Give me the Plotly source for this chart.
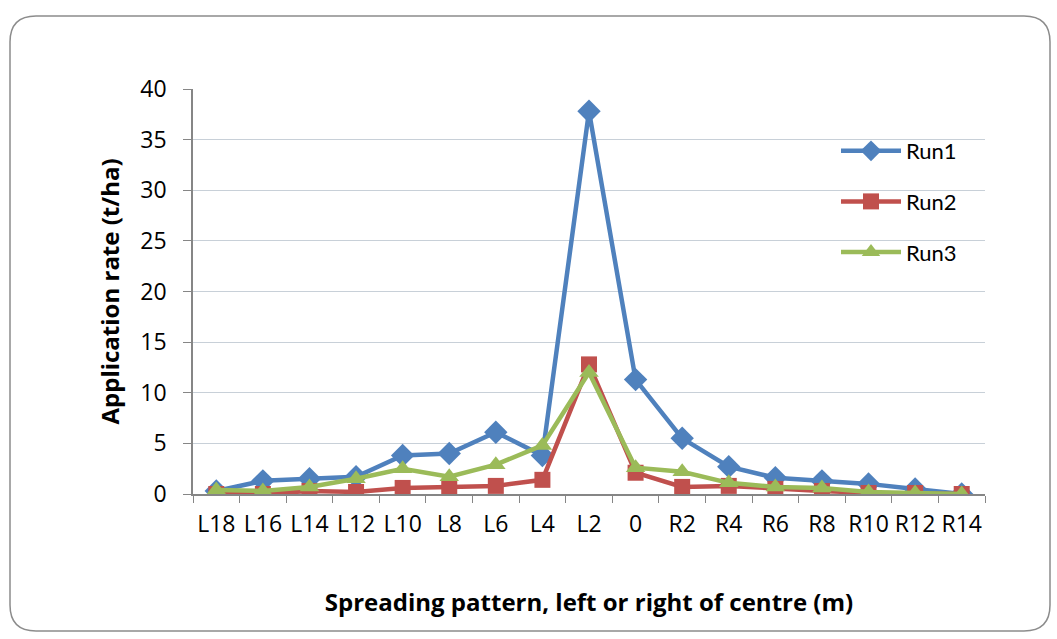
import plotly.graph_objects as go

# Distance from centre of the spreader pass (m)
positions = ["L18", "L16", "L14", "L12", "L10", "L8", "L6", "L4", "L2",
             "0", "R2", "R4", "R6", "R8", "R10", "R12", "R14"]

# Application rate (t/ha) for each run
run1 = [0.3, 1.3, 1.5, 1.7, 3.8, 4.0, 6.1, 3.8, 37.8, 11.3, 5.5, 2.7, 1.6, 1.3, 1.0, 0.5, 0.0]
run2 = [0.0, 0.0, 0.3, 0.2, 0.6, 0.7, 0.8, 1.4, 12.8, 2.1, 0.7, 0.8, 0.5, 0.3, 0.1, 0.1, 0.0]
run3 = [0.4, 0.3, 0.7, 1.5, 2.5, 1.7, 2.9, 4.8, 12.0, 2.6, 2.2, 1.1, 0.7, 0.6, 0.2, 0.1, 0.0]

series = [
    ("Run1", run1, "#4F81BD", "diamond", 18),
    ("Run2", run2, "#C0504D", "square", 16),
    ("Run3", run3, "#9BBB59", "triangle-up", 17),
]

W, H = 1057, 639
L, R, T, B = 193, 72, 89, 145

fig = go.Figure()
for name, vals, color, sym, size in series:
    fig.add_trace(go.Scatter(
        x=positions, y=vals, name=name, legendgroup=name,
        mode="lines+markers",
        line=dict(color=color, width=4.5),
        marker=dict(symbol=sym, size=size, color=color),
    ))

# Rounded frame around the whole chart, in paper coordinates
pw, ph = W - L - R, H - T - B
def px(x):
    return (x - L) / pw
def py(y):
    return (H - B - y) / ph
x0, x1, y0, y1, r = 10, 1050, 16, 631, 26
path = (
    f"M {px(x0 + r)} {py(y0)} L {px(x1 - r)} {py(y0)} "
    f"Q {px(x1)} {py(y0)} {px(x1)} {py(y0 + r)} "
    f"L {px(x1)} {py(y1 - r)} Q {px(x1)} {py(y1)} {px(x1 - r)} {py(y1)} "
    f"L {px(x0 + r)} {py(y1)} Q {px(x0)} {py(y1)} {px(x0)} {py(y1 - r)} "
    f"L {px(x0)} {py(y0 + r)} Q {px(x0)} {py(y0)} {px(x0 + r)} {py(y0)} Z"
)
fig.add_shape(type="path", path=path, xref="paper", yref="paper",
              line=dict(color="#8c8c8c", width=1.5), layer="below")

tick_font = dict(family="Open Sans, Lato, sans-serif", size=23, color="#000000")
title_font = dict(family="Open Sans, Lato, sans-serif", size=24, color="#000000")

fig.update_layout(
    width=W, height=H,
    margin=dict(l=L, r=R, t=T, b=B),
    paper_bgcolor="white", plot_bgcolor="white",
    showlegend=True,
    legend=dict(
        x=px(836), y=py(130), xanchor="left", yanchor="top",
        font=dict(family="Lato, Open Sans, sans-serif", size=22, color="#000000"),
        tracegroupgap=19, itemwidth=60, bgcolor="rgba(0,0,0,0)",
    ),
    xaxis=dict(
        type="category", tickson="boundaries", range=[-0.5, 16.5],
        tickangle=0,
        showline=True, linecolor="#868686", linewidth=1.5,
        ticks="outside", ticklen=7, tickcolor="#868686",
        ticklabelstandoff=9,
        showgrid=False, tickfont=tick_font,
        title=dict(text="<b>Spreading pattern, left or right of centre (m)</b>",
                   font=title_font, standoff=56),
    ),
    yaxis=dict(
        range=[0, 40], dtick=5,
        showline=True, linecolor="#868686", linewidth=1.5,
        ticks="outside", ticklen=8, tickcolor="#868686",
        ticklabelstandoff=12,
        showgrid=True, gridcolor="#c8d0d8", gridwidth=1,
        zeroline=False, tickfont=tick_font,
        title=dict(text="<b>Application rate (t/ha)</b>", font=title_font, standoff=14),
    ),
)

fig.write_html("out.html")
